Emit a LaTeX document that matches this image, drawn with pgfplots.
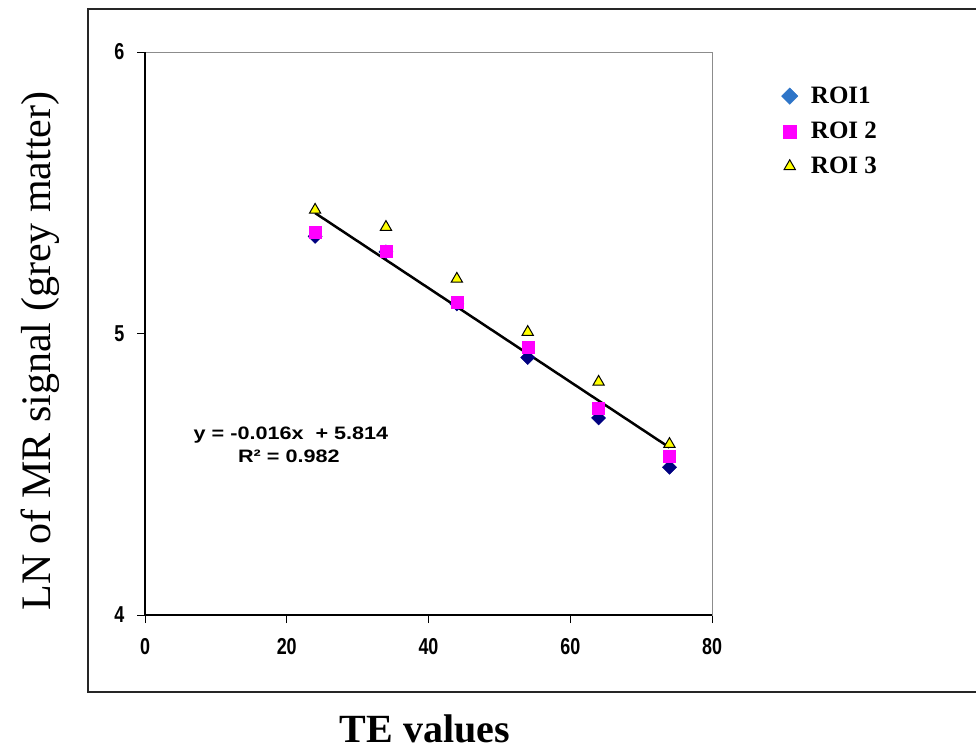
\documentclass[border=0pt]{standalone}
\usepackage{pgfplots}
\pgfplotsset{compat=1.18}
\usepackage{fontspec}
\setmainfont{Liberation Serif}
\newfontfamily\tickfont[FakeStretch=0.78]{Liberation Sans}
\newfontfamily\eqfont{Liberation Sans}
\definecolor{navyc}{RGB}{0,0,128}
\definecolor{roiblue}{RGB}{46,117,200}
\definecolor{magc}{RGB}{255,0,255}
\definecolor{yelc}{RGB}{255,255,0}
\begin{document}
\begin{tikzpicture}[x=1pt,y=1pt]
\useasboundingbox (0,0) rectangle (976,-753);
\fill[white] (0,0) rectangle (976,-753);
\draw[line width=2.2pt, black!85] (88,-9) rectangle (995,-692);
\begin{axis}[
  at={(145pt,-615pt)}, anchor=south west,
  scale only axis, width=567pt, height=563pt,
  xmin=0, xmax=80, ymin=4, ymax=6,
  xtick={0,20,40,60,80}, ytick={4,5,6},
  xtick pos=bottom, ytick pos=left,
  tick align=outside, major tick length=8pt,
  tick style={black, line width=1pt},
  axis line style={black!45, line width=1pt},
  ticklabel style={font=\tickfont\bfseries\fontsize{23}{23}\selectfont},
  xticklabel style={yshift=-12pt},
  yticklabel style={xshift=-9pt},
  /pgf/number format/assume math mode=true,
  clip=false,
  legend style={at={(1.117,0.945)}, anchor=north west, draw=none, fill=none,
    font=\bfseries\fontsize{25}{25}\selectfont, row sep=13pt,
    /tikz/every odd column/.append style={column sep=11pt}},
  legend cell align=left,
]
\addplot[only marks, mark=square*, mark size=5pt, mark options={rotate=45, fill=navyc, draw=navyc},
  legend image post style={mark options={rotate=45, fill=roiblue, draw=roiblue}, mark size=5.8pt}]
  coordinates {(24,5.345) (34,5.290) (44,5.105) (54,4.915) (64,4.700) (74,4.525)};
\addlegendentry{ROI1}
\addplot[only marks, mark=square*, mark size=6pt, mark options={fill=magc, draw=magc},
  legend image post style={mark size=6.5pt}]
  coordinates {(24,5.361) (34,5.293) (44,5.112) (54,4.950) (64,4.735) (74,4.565)};
\addlegendentry{ROI 2}
\addplot[only marks, mark=triangle*, mark size=6.5pt, mark options={fill=yelc, draw=black, line width=1pt}]
  coordinates {(24,5.439) (34,5.378) (44,5.194) (54,5.005) (64,4.828) (74,4.607)};
\addlegendentry{ROI 3}
\addplot[black, line width=2.5pt, forget plot] coordinates {(24,5.428) (74,4.595)};
\draw[black, line width=1.3pt] (rel axis cs:0,1) -- (rel axis cs:0,0) -- (rel axis cs:1,0);
\node[font=\eqfont\bfseries\fontsize{18}{18}\selectfont] at (axis cs:20.6,4.639) {\scalebox{1.2}[1]{y = -0.016x\ \ + 5.814}};
\node[font=\eqfont\bfseries\fontsize{18}{18}\selectfont] at (axis cs:20.3,4.565) {\scalebox{1.2}[1]{R² = 0.982}};
\end{axis}
\node[font=\fontsize{42}{42}\selectfont, rotate=90, anchor=base] at (50,-351) {LN of MR signal (grey matter)};
\node[font=\bfseries\fontsize{40}{40}\selectfont, anchor=base] at (425,-742) {TE values};
\end{tikzpicture}
\end{document}
